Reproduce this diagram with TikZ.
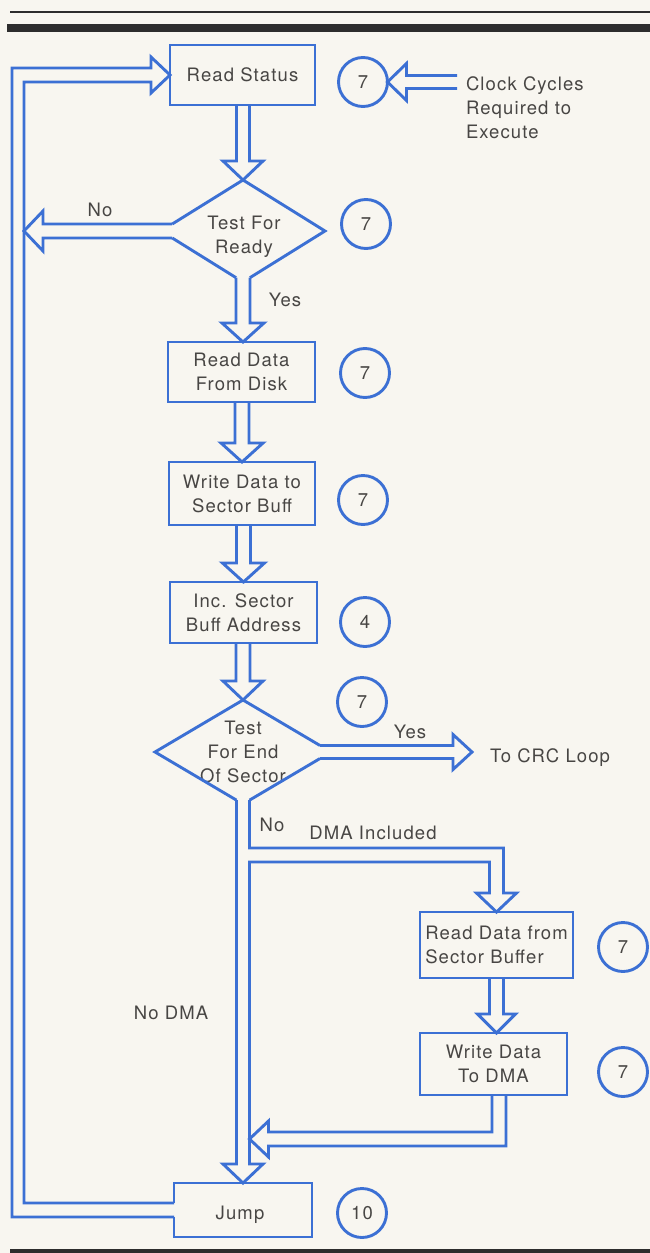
\documentclass[tikz,border=0pt]{standalone}
\usepackage{fontspec}
\setmainfont{TeX Gyre Heros}
\newfontfamily\lblfont[LetterSpace=6]{TeX Gyre Heros}
\usetikzlibrary{calc}
\definecolor{fblue}{RGB}{60,112,212}
\definecolor{ink}{RGB}{72,70,68}
\definecolor{paper}{RGB}{248,246,240}
\definecolor{rulecol}{RGB}{45,45,45}
% hollow arrows: #1 start, #2 tip, #3 shaft half width, #4 head half width
\newcommand\darr[4]{\draw[flow] let \p1=#1, \p2=#2 in (\x2-#3pt,\y1) -- (\x2-#3pt,\y2+19pt) -- (\x2-#4pt,\y2+19pt) -- (\p2) -- (\x2+#4pt,\y2+19pt) -- (\x2+#3pt,\y2+19pt) -- (\x2+#3pt,\y1);}
\newcommand\larr[4]{\draw[flow] let \p1=#1, \p2=#2 in (\x1,\y2+#3pt) -- (\x2+19pt,\y2+#3pt) -- (\x2+19pt,\y2+#4pt) -- (\p2) -- (\x2+19pt,\y2-#4pt) -- (\x2+19pt,\y2-#3pt) -- (\x1,\y2-#3pt);}
\newcommand\rarr[4]{\draw[flow] let \p1=#1, \p2=#2 in (\x1,\y2+#3pt) -- (\x2-19pt,\y2+#3pt) -- (\x2-19pt,\y2+#4pt) -- (\p2) -- (\x2-19pt,\y2-#4pt) -- (\x2-19pt,\y2-#3pt) -- (\x1,\y2-#3pt);}
\begin{document}
\begin{tikzpicture}[x=1pt,y=-1pt,
 flow/.style={draw=fblue,line width=2.9pt,line join=miter,line cap=butt},
 txt/.style={text=ink,font=\lblfont\fontsize{18.5}{24}\selectfont,inner sep=0pt,outer sep=0pt},
 box/.style={txt,draw=fblue,line width=2.9pt,rectangle,align=center},
 dia/.style={txt,rectangle,align=center},
 cyc/.style={txt,draw=fblue,line width=2.9pt,circle,minimum size=49pt}]
\fill[paper] (0,0) rectangle (650,1253);
\useasboundingbox (0,0) rectangle (650,1253);
\fill[rulecol] (10,11) rectangle (650,12.8);
\fill[rulecol] (7,24) rectangle (650,32);
\fill[rulecol] (10,1249) rectangle (650,1253);

\node[box,minimum width=145pt,minimum height=60pt] (rs) at (242.5,75) {Read Status};
\node[cyc] (c1) at (363,82) {7};
\node[txt,anchor=west,align=left] (clk) at (466,108) {Clock Cycles\\Required to\\Execute};
\node[dia,minimum width=164pt,minimum height=102pt] (tr) at (243,231) {};
\node[txt,align=center] (trlbl) at (244,237) {Test For\\Ready};
\node[cyc] (c2) at (366,224) {7};
\node[box,minimum width=147pt,minimum height=60pt] (rd) at (241.5,372) {Read Data\\From Disk};
\node[cyc] (c3) at (365,373) {7};
\node[box,minimum width=146pt,minimum height=63pt] (wd) at (242,493.5) {Write Data to\\Sector Buff};
\node[cyc] (c4) at (363,500) {7};
\node[box,minimum width=147pt,minimum height=61pt] (inc) at (243.5,612.5) {Inc. Sector\\Buff Address};
\node[cyc] (c5) at (365,622) {4};
\node[dia,minimum width=176pt,minimum height=104pt] (te) at (243,752) {Test\\For End\\Of Sector};
\node[cyc] (c6) at (362,702) {7};
\node[txt,anchor=west] (crc) at (490,758) {To CRC Loop};
\node[box,minimum width=153pt,minimum height=66pt,align=left] (rdb) at (496.5,945) {Read Data from\\Sector Buffer};
\node[cyc] (c7) at (623,947) {7};
\node[box,minimum width=147pt,minimum height=62pt] (wdma) at (493.5,1064) {Write Data\\To DMA};
\node[cyc] (c8) at (623,1072) {7};
\node[dia,minimum width=138pt,minimum height=54pt] (jump) at (243,1210) {};
\node[txt] (jumplbl) at (240,1215) {Jump};
\node[cyc] (c9) at (362,1213) {10};

\node[txt] (lno1) at (100,210) {No};
\node[txt] (lyes1) at (285,300) {Yes};
\node[txt] (lyes2) at (410,732) {Yes};
\node[txt] (lno2) at (272,825) {No};
\node[txt] (ldma) at (373,833) {DMA Included};
\node[txt] (lnodma) at (171,1013) {No DMA};

\coordinate (lpO) at (12,0);
\coordinate (lpI) at (24,0);
\coordinate (clkEnd) at (457,82);
\coordinate (crcTip) at (472,752);
\coordinate (dmaH) at (0,855);
\coordinate (mg) at (0,1139);

% diamonds (open where arrows leave)
\draw[flow] ($(tr.west)!0.137!(tr.north)$) -- (tr.north) -- (tr.east) -- ($(tr.south)!0.085!(tr.east)$)
  ($(tr.south)!0.085!(tr.west)$) -- ($(tr.west)!0.137!(tr.south)$);
\draw[flow] ($(te.east)!0.125!(te.north)$) -- (te.north) -- (te.west) -- ($(te.south)!0.074!(te.west)$)
  ($(te.south)!0.074!(te.east)$) -- ($(te.east)!0.125!(te.south)$);
% jump box, open on the left
\draw[flow] ($(jump.west)+(0,-7)$) -- (jump.north west) -- (jump.north east) -- (jump.south east) -- (jump.south west) -- ($(jump.west)+(0,7)$);

% arrows
\darr{(rs.south)}{(tr.north)}{6.5}{20}
\darr{($(tr.south)!0.085!(tr.west)$)}{(tr.south |- rd.north)}{7}{21}
\darr{(rd.south)}{(wd.north)}{7}{21}
\darr{(wd.south)}{(inc.north)}{7}{21}
\darr{(inc.south)}{(te.north)}{7}{20}
\darr{(rdb.south)}{(rdb.south |- wdma.north)}{7}{19}
\larr{($(tr.west)!0.137!(tr.north)$)}{(lpI |- tr.west)}{7}{20}
\rarr{($(te.east)!0.125!(te.north)$)}{(crcTip)}{6.5}{17.5}
\larr{(clkEnd)}{(c1.east)}{6.5}{18.5}

% return loop
\draw[flow] let \p1=(rs.west), \p2=(jump.west), \p3=(lpO), \p4=(lpI) in
  (\x2,\y2-7pt) -- (\x3,\y2-7pt) -- (\x3,\y1+7pt) -- (\x1-19pt,\y1+7pt) -- (\x1-19pt,\y1+18pt) -- (\p1)
  -- (\x1-19pt,\y1-18pt) -- (\x1-19pt,\y1-7pt) -- (\x4,\y1-7pt) -- (\x4,\y2+7pt) -- (\x2,\y2+7pt);

% No branch: DMA included and No DMA
\draw[flow] let \p1=($(te.south)!0.074!(te.east)$), \p2=(rdb.north), \p3=(te.south |- jump.north),
  \p4=($(te.south)!0.074!(te.west)$), \p5=(dmaH) in
  (\p1) -- (\x1,\y5+7pt) -- (\x2+7pt,\y5+7pt) -- (\x2+7pt,\y2+19pt) -- (\x2+20pt,\y2+19pt) -- (\p2)
  -- (\x2-20pt,\y2+19pt) -- (\x2-7pt,\y2+19pt) -- (\x2-7pt,\y5-7pt) -- (\x1,\y5-7pt)
  -- (\x1,\y3+19pt) -- (\x3+20pt,\y3+19pt) -- (\p3) -- (\x3-20pt,\y3+19pt) -- (\x4,\y3+19pt) -- (\p4);

% merge from Write Data To DMA
\draw[flow] let \p1=($(wdma.south)+(5.5,0)$), \p2=($(te.south)!0.074!(te.east)$), \p3=(mg) in
  (\x1-7pt,\y1) -- (\x1-7pt,\y3+7pt) -- (\x2+19pt,\y3+7pt) -- (\x2+19pt,\y3+18pt) -- (\x2,\y3)
  -- (\x2+19pt,\y3-18pt) -- (\x2+19pt,\y3-7pt) -- (\x1+7pt,\y3-7pt) -- (\x1+7pt,\y1);
\end{tikzpicture}
\end{document}
